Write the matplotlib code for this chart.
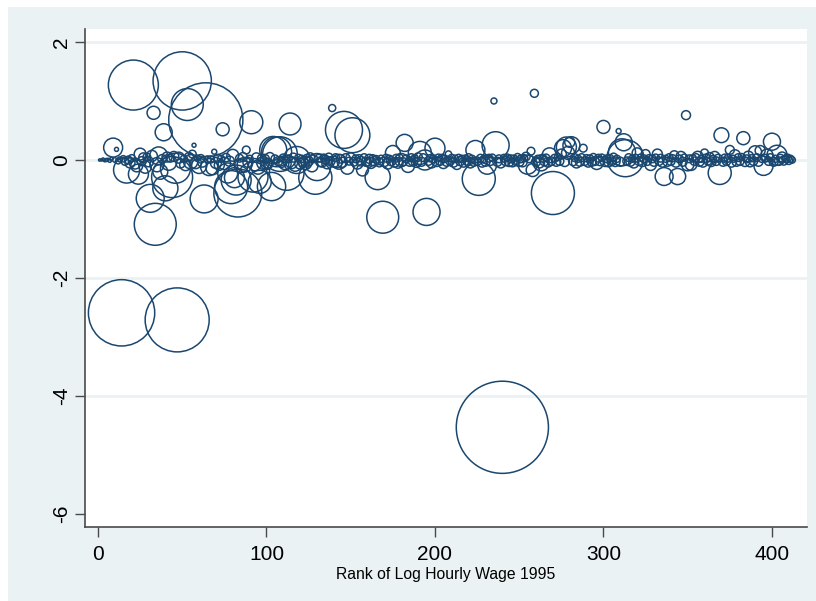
import numpy as np
import matplotlib
matplotlib.use("Agg")
import matplotlib.pyplot as plt
from matplotlib.patches import Rectangle

# Residual and population weight for each wage-rank observation (rank = position, 1..412)
resid = [
    # 1-10
    0.00, 0.00, 0.01, -0.01, 0.00, 0.01, -0.01, 0.02, 0.21, 0.00,
    # 11-20
    0.18, -0.02, 0.01, -2.59, 0.02, -0.03, -0.17, 0.00, -0.05, 0.03,
    # 21-30
    1.27, -0.06, -0.10, -0.24, 0.10, -0.02, 0.04, -0.12, 0.05, -0.03,
    # 31-40
    -0.65, 0.07, 0.80, -1.09, -0.08, 0.07, -0.20, 0.02, 0.47, -0.48,
    # 41-50
    0.05, -0.04, 0.03, -0.29, 0.06, -0.14, -2.71, 0.04, -0.06, 1.34,
    # 51-60
    0.02, -0.08, 0.94, 0.05, -0.03, 0.10, 0.25, -0.05, 0.03, -0.10,
    # 61-70
    0.02, -0.04, -0.66, 0.68, 0.01, -0.12, 0.01, -0.14, 0.14, -0.05,
    # 71-80
    0.03, -0.09, 0.02, 0.52, -0.06, 0.04, -0.22, -0.02, -0.46, 0.08,
    # 81-90
    -0.30, -0.34, -0.56, 0.03, -0.10, 0.05, -0.08, 0.17, -0.04, 0.02,
    # 91-100
    0.64, -0.29, -0.08, 0.04, -0.12, -0.37, 0.03, -0.05, 0.02, -0.07,
    # 101-110
    -0.06, 0.05, -0.45, 0.17, 0.02, 0.14, -0.02, 0.10, -0.04, 0.03,
    # 111-120
    -0.06, -0.22, 0.02, 0.61, -0.05, 0.04, -0.08, 0.00, 0.03, -0.06,
    # 121-130
    0.02, -0.04, -0.05, 0.03, -0.02, 0.05, -0.10, 0.02, -0.30, -0.12,
    # 131-140
    0.03, -0.03, -0.04, 0.04, 0.01, -0.06, 0.05, -0.02, 0.88, -0.03,
    # 141-150
    0.04, -0.05, -0.03, 0.02, -0.04, 0.51, 0.03, -0.13, -0.02, 0.04,
    # 151-160
    0.42, -0.03, 0.02, -0.06, 0.03, -0.02, -0.17, 0.04, -0.03, -0.04,
    # 161-170
    0.02, -0.05, 0.03, -0.02, 0.01, -0.29, -0.04, 0.02, -0.97, -0.03,
    # 171-180
    0.03, -0.06, 0.02, -0.02, 0.12, -0.04, 0.03, -0.05, 0.04, 0.00,
    # 181-190
    -0.03, 0.29, 0.02, -0.10, -0.03, 0.04, -0.02, 0.03, -0.04, 0.05,
    # 191-200
    0.12, -0.03, 0.04, 0.00, -0.88, -0.02, 0.03, -0.05, 0.02, 0.20,
    # 201-210
    -0.03, 0.04, -0.02, 0.03, -0.06, 0.02, -0.03, 0.10, -0.02, 0.03,
    # 211-220
    -0.04, 0.02, -0.08, 0.03, -0.02, 0.02, -0.04, 0.03, -0.02, 0.04,
    # 221-230
    -0.05, 0.02, -0.03, 0.17, -0.02, -0.32, 0.03, -0.04, 0.02, -0.03,
    # 231-240
    -0.08, 0.03, -0.02, 0.04, 1.00, 0.25, -0.03, 0.02, -0.05, -4.53,
    # 241-250
    0.03, -0.02, 0.04, -0.03, 0.02, -0.04, 0.03, -0.02, 0.05, -0.03,
    # 251-260
    0.02, -0.04, 0.03, 0.06, -0.08, 0.02, 0.15, -0.17, 1.13, -0.03,
    # 261-270
    0.02, -0.05, -0.05, 0.03, -0.02, 0.04, -0.04, 0.08, -0.02, -0.56,
    # 271-280
    0.03, -0.03, 0.05, -0.02, 0.10, 0.20, -0.03, 0.22, 0.12, 0.30,
    # 281-290
    0.25, -0.02, 0.04, -0.05, 0.02, -0.03, 0.04, 0.20, -0.02, 0.03,
    # 291-300
    -0.04, 0.02, -0.03, 0.05, -0.02, -0.05, 0.03, -0.02, 0.04, 0.56,
    # 301-310
    -0.03, 0.02, -0.04, 0.03, -0.02, 0.05, -0.03, 0.02, 0.49, -0.03,
    # 311-320
    0.13, 0.30, 0.03, -0.02, 0.04, -0.03, 0.02, -0.05, 0.03, 0.12,
    # 321-330
    -0.02, 0.04, -0.03, 0.02, 0.10, -0.02, 0.03, -0.08, 0.02, -0.03,
    # 331-340
    0.04, 0.10, -0.02, 0.03, -0.04, -0.28, 0.02, -0.03, 0.04, -0.02,
    # 341-350
    0.03, 0.08, -0.04, -0.28, 0.02, 0.06, -0.03, 0.04, 0.76, -0.08,
    # 351-360
    0.02, -0.08, 0.03, -0.02, 0.04, 0.05, -0.03, 0.02, -0.04, 0.12,
    # 361-370
    0.03, -0.02, 0.05, -0.03, 0.02, 0.06, -0.02, 0.03, -0.22, 0.42,
    # 371-380
    -0.03, 0.04, -0.02, 0.03, 0.17, -0.04, 0.02, 0.08, -0.03, 0.04,
    # 381-390
    -0.02, 0.05, 0.37, -0.03, 0.02, 0.06, -0.04, 0.03, -0.02, 0.13,
    # 391-400
    0.04, -0.03, 0.16, 0.02, -0.10, 0.03, 0.08, -0.02, 0.04, 0.31,
    # 401-410
    -0.03, 0.02, 0.08, -0.02, 0.03, 0.05, -0.01, 0.02, 0.03, -0.01,
    # 411-412
    0.02, 0.00,
]

weight = [
    # 1-10
    0.05, 0.04, 0.08, 0.06, 0.10, 0.05, 0.12, 0.10, 3.6, 0.20,
    # 11-20
    0.16, 0.30, 0.25, 44.0, 0.40, 0.50, 6.8, 0.60, 1.0, 0.50,
    # 21-30
    25.0, 1.2, 1.4, 4.0, 1.4, 0.8, 0.9, 1.5, 0.6, 1.0,
    # 31-40
    7.8, 1.2, 1.7, 17.6, 2.0, 3.2, 2.2, 0.7, 2.9, 6.3,
    # 41-50
    1.0, 2.5, 0.6, 16.8, 1.0, 9.0, 41.0, 1.2, 0.8, 34.0,
    # 51-60
    0.5, 1.4, 10.2, 0.8, 2.0, 0.6, 0.16, 1.3, 0.4, 2.3,
    # 61-70
    0.7, 0.9, 7.8, 55.0, 0.5, 2.9, 0.5, 1.7, 0.25, 1.2,
    # 71-80
    0.6, 1.0, 0.5, 1.7, 1.5, 0.7, 4.0, 1.0, 10.9, 1.4,
    # 81-90
    4.0, 9.0, 23.0, 0.6, 1.8, 0.8, 2.2, 0.6, 1.0, 0.5,
    # 91-100
    5.3, 9.0, 1.5, 0.9, 2.0, 5.3, 0.6, 1.6, 0.8, 1.2,
    # 101-110
    1.0, 0.8, 8.0, 7.3, 0.6, 9.0, 0.8, 12.0, 1.0, 0.7,
    # 111-120
    1.5, 12.0, 0.6, 4.8, 1.3, 0.8, 1.7, 7.3, 0.6, 1.2,
    # 121-130
    0.5, 1.0, 1.7, 0.6, 0.9, 0.7, 1.4, 0.6, 11.0, 7.3,
    # 131-140
    0.6, 0.9, 0.9, 0.5, 0.7, 1.1, 0.6, 0.8, 0.5, 1.2,
    # 141-150
    0.6, 0.9, 2.2, 0.7, 1.0, 13.7, 0.8, 1.7, 0.6, 0.9,
    # 151-160
    12.2, 0.7, 0.6, 1.2, 0.5, 0.9, 1.4, 0.6, 0.8, 0.6,
    # 161-170
    0.8, 1.2, 0.5, 0.9, 0.6, 6.3, 0.8, 0.5, 10.2, 0.9,
    # 171-180
    0.6, 1.2, 0.5, 0.8, 2.2, 0.9, 0.6, 1.1, 0.5, 1.7,
    # 181-190
    0.7, 2.9, 0.6, 1.7, 0.8, 0.6, 0.9, 0.5, 1.0, 0.7,
    # 191-200
    5.3, 0.8, 0.6, 4.0, 7.3, 0.7, 0.5, 1.0, 0.6, 4.0,
    # 201-210
    0.9, 0.5, 0.7, 0.6, 1.0, 0.5, 0.8, 0.4, 0.7, 0.6,
    # 211-220
    0.9, 0.5, 0.9, 0.6, 0.8, 0.5, 0.9, 0.4, 0.7, 0.6,
    # 221-230
    1.0, 0.5, 0.8, 3.6, 0.7, 10.9, 0.6, 0.9, 0.5, 0.8,
    # 231-240
    3.6, 0.6, 0.7, 0.5, 0.36, 7.3, 0.8, 0.6, 1.0, 85.0,
    # 241-250
    0.6, 0.8, 0.5, 0.9, 0.6, 0.8, 0.4, 0.7, 0.5, 0.9,
    # 251-260
    0.6, 0.8, 0.5, 0.7, 3.6, 0.6, 0.6, 1.7, 0.64, 0.8,
    # 261-270
    0.5, 1.0, 2.5, 0.6, 0.8, 0.5, 0.9, 2.2, 0.7, 18.5,
    # 271-280
    0.6, 0.8, 0.5, 0.7, 1.0, 2.9, 0.9, 4.0, 1.7, 1.0,
    # 281-290
    2.9, 0.8, 0.6, 1.0, 0.5, 0.8, 0.6, 0.6, 0.7, 0.5,
    # 291-300
    0.9, 0.6, 0.8, 0.5, 0.7, 1.7, 0.6, 0.8, 0.5, 1.7,
    # 301-310
    0.9, 0.6, 0.8, 0.5, 0.7, 0.6, 0.9, 0.5, 0.25, 0.8,
    # 311-320
    7.3, 2.9, 13.7, 0.7, 0.6, 0.8, 0.5, 1.0, 0.6, 1.0,
    # 321-330
    0.7, 0.5, 0.9, 0.6, 0.8, 0.7, 0.5, 1.3, 0.6, 0.8,
    # 331-340
    0.5, 1.0, 0.7, 0.6, 0.9, 3.2, 0.5, 0.8, 0.6, 0.7,
    # 341-350
    0.5, 0.8, 0.9, 2.6, 0.6, 1.0, 0.8, 0.5, 0.8, 1.5,
    # 351-360
    0.6, 1.3, 0.5, 0.7, 0.6, 1.3, 0.8, 0.5, 0.9, 0.6,
    # 361-370
    0.7, 0.6, 0.8, 0.9, 0.5, 1.0, 0.7, 0.6, 5.3, 2.2,
    # 371-380
    0.8, 0.5, 0.7, 0.6, 0.8, 0.9, 0.5, 1.2, 0.8, 0.6,
    # 381-390
    0.7, 0.5, 1.7, 0.9, 0.6, 1.1, 0.8, 0.5, 0.7, 1.7,
    # 391-400
    0.6, 0.8, 1.0, 0.5, 3.6, 0.6, 1.5, 0.7, 0.6, 2.9,
    # 401-410
    0.8, 0.5, 4.0, 0.7, 0.6, 1.0, 0.8, 0.5, 0.7, 0.6,
    # 411-412
    0.5, 0.4,
]

x_ticks = [0, 100, 200, 300, 400]
y_ticks = [2, 0, -2, -4, -6]
x_title = "Rank of Log Hourly Wage 1995"

rank = np.arange(1, len(resid) + 1)
resid = np.asarray(resid)
weight = np.asarray(weight)

BG = "#eaf2f3"
NAVY = "#1a476f"

W, H, DPI = 816, 601, 100
fig = plt.figure(figsize=(W / DPI, H / DPI), dpi=DPI, facecolor="white")
# shaded graph region (thin white margin on top and left)
fig.patches.append(Rectangle((8 / W, 0), 1 - 8 / W, 1 - 7 / H,
                             transform=fig.transFigure, facecolor=BG,
                             edgecolor="none", zorder=-10))

ax = fig.add_axes([85 / W, 1 - 527 / H, (807 - 85) / W, (527 - 29) / H])
ax.set_facecolor("white")

for yv in y_ticks[:-1]:
    ax.axhline(yv, color=BG, lw=2.0, zorder=0)

# bubble area proportional to weight
ax.scatter(rank, resid, s=weight * 51.8, facecolors="none",
           edgecolors=NAVY, linewidths=1.1, zorder=3)

ax.set_xlim(-7.7, 420.8)
ax.set_ylim(-6.22, 2.22)
ax.set_xticks(x_ticks)
ax.set_yticks(y_ticks)
ax.set_yticklabels([str(v) for v in y_ticks], rotation=90, va="center")

for side in ("top", "right"):
    ax.spines[side].set_visible(False)
for side in ("left", "bottom"):
    ax.spines[side].set_color("#4a4a4a")
    ax.spines[side].set_linewidth(1.2)

ax.tick_params(axis="both", direction="out", length=7, width=1.0,
               color="#4a4a4a", labelsize=15,
               labelfontfamily="Liberation Sans")
ax.tick_params(axis="x", pad=6)
ax.tick_params(axis="y", pad=3)
ax.set_xlabel(x_title, fontsize=11.3, family="Liberation Sans", labelpad=2)

fig.savefig("out.png", dpi=DPI, facecolor=fig.get_facecolor())
